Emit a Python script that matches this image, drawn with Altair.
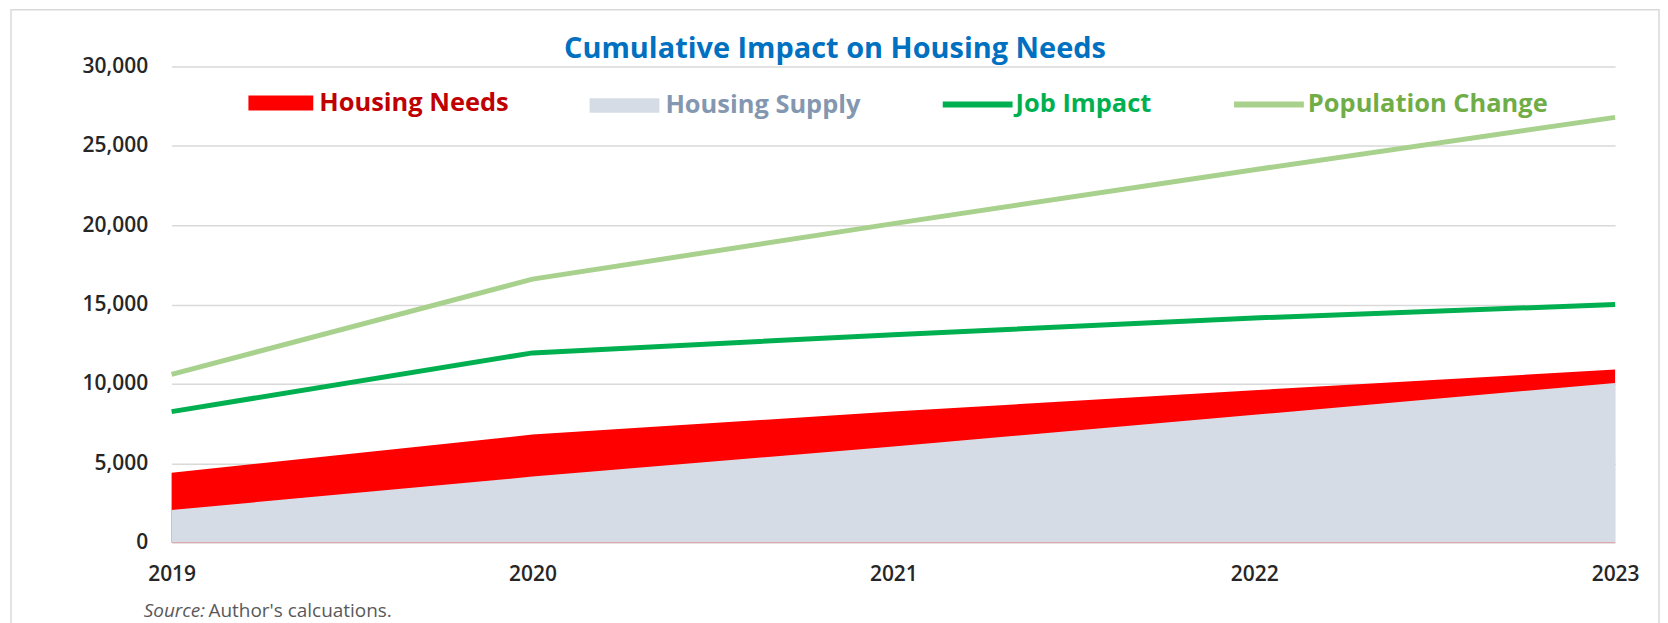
import altair as alt
import pandas as pd

# ---- data ----
years = [2019, 2020, 2021, 2022, 2023]
housing_needs = [4400, 6800, 8250, 9600, 10900]
housing_supply = [2050, 4150, 6050, 8050, 10050]
job_impact = [8250, 11950, 13100, 14150, 15000]
population_change = [10600, 16600, 20100, 23500, 26800]

series_names = ["Housing Needs", "Housing Supply", "Job Impact", "Population Change"]
y_ticks = [0, 5000, 10000, 15000, 20000, 25000, 30000]
title_text = "Cumulative Impact on Housing Needs"
source_prefix = "Source:"
source_text = "Author's calcuations."

FONT = "Open Sans"
W, H = 1447, 477


def frame(name, values):
    return pd.DataFrame({"year": years, "value": values, "series": name})


x_enc = alt.X(
    "year:Q",
    scale=alt.Scale(domain=[years[0], years[-1]], nice=False, zero=False),
    axis=alt.Axis(values=years, format="d", grid=False, domain=False, ticks=False,
                  labelPadding=21, labelFlush=False, labelOverlap=False, title=None),
)
y_enc = alt.Y(
    "value:Q",
    scale=alt.Scale(domain=[0, 30000], nice=False),
    axis=alt.Axis(values=y_ticks, format=",d", grid=True, gridColor="#D9D9D9", gridWidth=1.5,
                  domain=False, ticks=False, labelPadding=24, title=None),
)


def legend(x, y, symbol, size, label_color, offset, stroke_width=0):
    return alt.Legend(
        orient="none", legendX=x, legendY=y, title=None, padding=0,
        symbolType=symbol, symbolSize=size, symbolStrokeWidth=stroke_width,
        symbolOpacity=1, labelColor=label_color, labelFont=FONT, labelFontSize=25.5,
        labelFontWeight="bold", labelLimit=600, labelOffset=offset,
    )


AREA_LEG_Y = 4
LINE_LEG_Y = 0

needs = alt.Chart(frame(series_names[0], housing_needs)).mark_area(opacity=1).encode(
    x=x_enc, y=y_enc,
    color=alt.Color("series:N", scale=alt.Scale(domain=[series_names[0]], range=["#FF0000"]),
                    legend=legend(77, AREA_LEG_Y, "M-1,-0.23H1V0.23H-1Z", 4225, "#C00000", 6)),
)
supply = alt.Chart(frame(series_names[1], housing_supply)).mark_area(opacity=1).encode(
    x=x_enc, y=y_enc,
    color=alt.Color("series:N", scale=alt.Scale(domain=[series_names[1]], range=["#D6DCE5"]),
                    legend=legend(419, AREA_LEG_Y, "M-1,-0.21H1V0.21H-1Z", 4900, "#8497B0", 6)),
)
job = alt.Chart(frame(series_names[2], job_impact)).mark_line(strokeWidth=5).encode(
    x=x_enc, y=y_enc,
    color=alt.Color("series:N", scale=alt.Scale(domain=[series_names[2]], range=["#00B050"]),
                    legend=legend(770, LINE_LEG_Y, "stroke", 4900, "#00B050", 0, 6)),
)
pop = alt.Chart(frame(series_names[3], population_change)).mark_line(strokeWidth=5).encode(
    x=x_enc, y=y_enc,
    color=alt.Color("series:N", scale=alt.Scale(domain=[series_names[3]], range=["#A9D18E"]),
                    legend=legend(1062, LINE_LEG_Y, "stroke", 4900, "#70AD47", 1, 6)),
)

one = pd.DataFrame({"k": [0]})

border = alt.Chart(one).mark_rect(fillOpacity=0, stroke="#D9D9D9", strokeWidth=1.5).encode(
    x=alt.value(-161), x2=alt.value(1491), y=alt.value(-57), y2=alt.value(H + 120),
)

title = alt.Chart(pd.DataFrame({"t": [title_text]})).mark_text(
    font=FONT, fontSize=29, fontWeight="bold", color="#0070C0", align="center", baseline="middle",
).encode(text="t:N", x=alt.value(665), y=alt.value(-18))

src1 = alt.Chart(pd.DataFrame({"t": [source_prefix]})).mark_text(
    font=FONT, fontSize=19, fontStyle="italic", color="#595959", align="left", baseline="middle",
).encode(text="t:N", x=alt.value(-28), y=alt.value(546))
src2 = alt.Chart(pd.DataFrame({"t": [source_text]})).mark_text(
    font=FONT, fontSize=19, color="#595959", align="left", baseline="middle",
).encode(text="t:N", x=alt.value(37), y=alt.value(546))

chart = (
    alt.layer(border, needs, supply, job, pop, title, src1, src2)
    .resolve_scale(color="independent")
    .properties(
        width=W, height=H,
        padding={"left": 164, "top": 58, "right": 45, "bottom": 80},
        autosize=alt.AutoSizeParams(type="none"),
        background="white",
    )
    .configure_view(stroke=None)
    .configure_axis(labelFont=FONT, labelFontSize=21, labelFontWeight=600, labelColor="#262626")
)

chart.save("out.html", embed_options={"renderer": "svg", "actions": False})
